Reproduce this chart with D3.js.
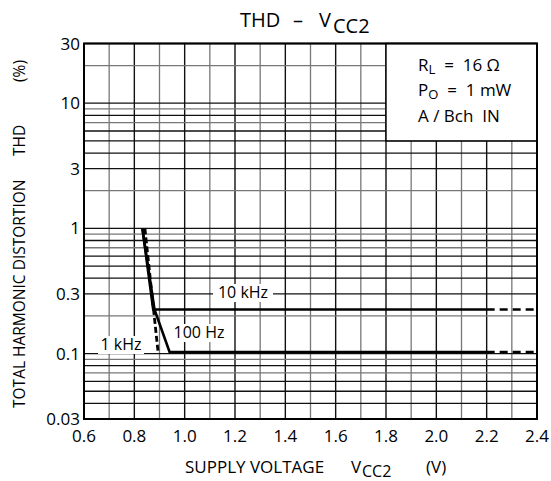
<!DOCTYPE html>
<html><head><meta charset="utf-8">
<script src="https://cdn.jsdelivr.net/npm/d3@7"></script>
<style>body{margin:0;background:#fff}svg{display:block}text{font-family:"Open Sans",sans-serif;fill:#000;white-space:pre}</style>
</head><body><svg id="c" width="551" height="481"></svg>
<script>
const xTicks = [0.6,0.8,1.0,1.2,1.4,1.6,1.8,2.0,2.2,2.4];
const yTicks = [30,10,3,1,0.3,0.1,0.03];
const yTickLabels = ["30","10","3","1","0.3","0.1","0.03"];
const v10k = [0.832,0.875,2.2];
const thd10k = [1.0,0.225,0.225];
const v10kExt = [2.2,2.4];
const thd10kExt = [0.225,0.225];
const v100 = [0.832,0.88,0.94,2.2];
const thd100 = [1.0,0.225,0.103,0.103];
const v100Ext = [2.2,2.4];
const thd100Ext = [0.103,0.103];
const v1k = [0.842,0.895];
const thd1k = [1.0,0.1];

const svg = d3.select("#c");
const L=84,R=537,T=43.5,B=419;
const x = d3.scaleLinear().domain([0.6,2.4]).range([L,R]);
const y = d3.scaleLog().domain([0.03,30]).range([B,T]);

// grid
const g = svg.append("g");
for(let i=0;i<=18;i++){
  const v=0.6+i*0.1;
  const major = i%2===0;
  g.append("line").attr("x1",x(v)).attr("x2",x(v)).attr("y1",T).attr("y2",B)
   .attr("stroke",major?"#111":"#777").attr("stroke-width",major?1.4:1.3);
}
const yg=[];
[0.01,0.1,1,10].forEach(d=>{for(let k=1;k<10;k++){const v=d*k; if(v>=0.03-1e-9&&v<=30+1e-9) yg.push(v);}});
yg.forEach(v=>{
  const m = Math.round(v/Math.pow(10,Math.floor(Math.log10(v)+1e-9)));
  const dark = (m===1||m===3||m===5||m===4||m===6||m===8);
  g.append("line").attr("x1",L).attr("x2",R).attr("y1",y(v)).attr("y2",y(v))
   .attr("stroke",dark?"#111":"#777").attr("stroke-width",1.3);
});

// legend box
svg.append("rect").attr("x",x(1.8)).attr("y",T).attr("width",x(2.4)-x(1.8)).attr("height",y(5)-T)
  .attr("fill","#fff").attr("stroke","#000").attr("stroke-width",1.4);
const lt = svg.append("g").attr("font-size",17);
let t=lt.append("text").attr("x",418).attr("y",71);
t.append("tspan").text("R");
t.append("tspan").attr("font-size",13).attr("dy",3).text("L");
t.append("tspan").attr("dy",-3).text("  =  16 Ω");
t=lt.append("text").attr("x",418).attr("y",96);
t.append("tspan").text("P");
t.append("tspan").attr("font-size",13).attr("dy",3).text("O");
t.append("tspan").attr("dy",-3).text("  =  1 mW");
lt.append("text").attr("x",418).attr("y",122).text("A / Bch  IN");

// curve labels with white background
function lab(txt,cx,cy,w){
  svg.append("rect").attr("x",cx-w/2).attr("y",cy-14).attr("width",w).attr("height",18).attr("fill","#fff");
  svg.append("text").attr("x",cx).attr("y",cy).attr("text-anchor","middle").attr("font-size",16).text(txt);
}
lab("10 kHz",243,298,60);
lab("1 kHz",121,350,46);
lab("100 Hz",199,338,58);

// curves
const line = d3.line().x(d=>x(d[0])).y(d=>y(d[1]));
const zip=(a,b)=>a.map((v,i)=>[v,b[i]]);
const cg = svg.append("g").attr("fill","none").attr("stroke","#000").attr("stroke-width",2.6);
cg.append("path").attr("d",line(zip(v10k,thd10k)));
cg.append("path").attr("d",line(zip(v10kExt,thd10kExt))).attr("stroke-dasharray","8,5");
cg.append("path").attr("d",line(zip(v100,thd100)));
cg.append("path").attr("d",line(zip(v100Ext,thd100Ext))).attr("stroke-dasharray","8,5");
cg.append("path").attr("d",line(zip(v1k,thd1k))).attr("stroke-dasharray","6,3").attr("stroke-width",2.8);

// border
svg.append("rect").attr("x",L).attr("y",T).attr("width",R-L).attr("height",B-T).attr("fill","none").attr("stroke","#000").attr("stroke-width",2);

// tick labels
const tk = svg.append("g").attr("font-size",17);
yTicks.forEach((v,i)=>{
  tk.append("text").attr("x",80).attr("y",y(v)+6).attr("text-anchor","end").text(yTickLabels[i]);
});
xTicks.forEach(v=>{
  tk.append("text").attr("x",x(v)).attr("y",442).attr("text-anchor","middle").text(v.toFixed(1));
});

// title
const tt = svg.append("g").attr("font-size",20);
tt.append("text").attr("x",240).attr("y",27).text("THD");
tt.append("text").attr("x",293).attr("y",27).text("–");
tt.append("text").attr("x",319).attr("y",27).text("V");
tt.append("text").attr("x",333).attr("y",33).text("CC2");

// x label
const xl = svg.append("g").attr("font-size",17);
xl.append("text").attr("x",185).attr("y",473).text("SUPPLY VOLTAGE");
xl.append("text").attr("x",351).attr("y",473).text("V");
xl.append("text").attr("x",362).attr("y",477).attr("font-size",16).text("CC2");
xl.append("text").attr("x",426).attr("y",473).text("(V)");

// y label
const yl = svg.append("g").attr("font-size",15.5);
yl.append("text").attr("transform","translate(25,408) rotate(-90)").text("TOTAL HARMONIC DISTORTION");
yl.append("text").attr("transform","translate(25,156) rotate(-90)").text("THD");
yl.append("text").attr("transform","translate(25,82) rotate(-90)").text("(%)");
</script></body></html>
